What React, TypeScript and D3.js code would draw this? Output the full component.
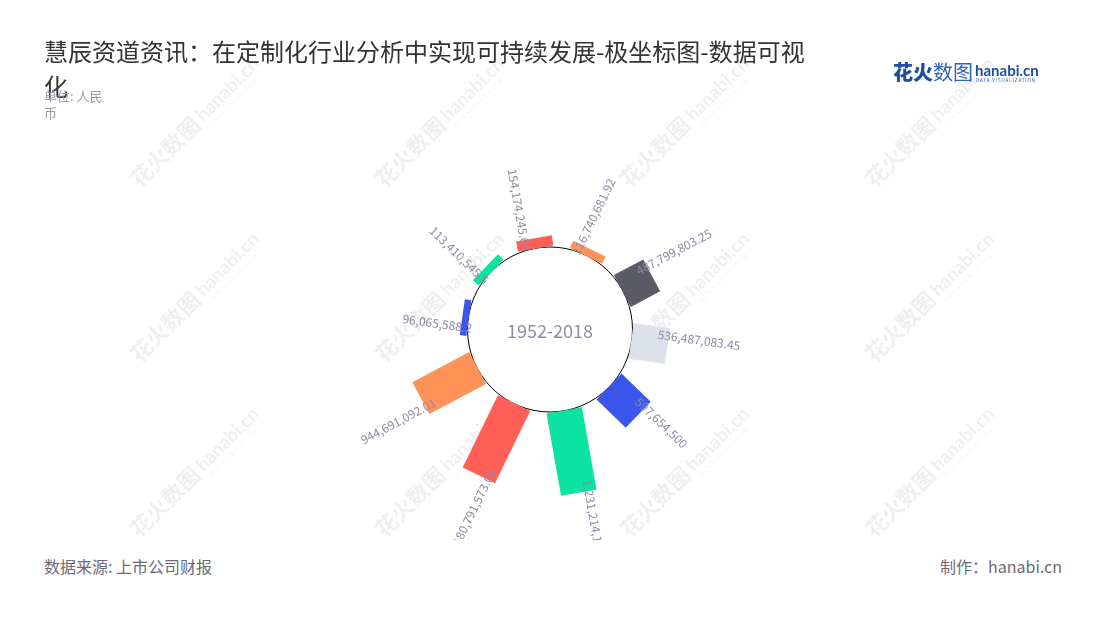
import React from 'react';
import * as d3 from 'd3';

const values: number[] = [
  154174245.68, 116740681.92, 487799803.25, 536487083.45, 597654500,
  1231214117.6, 1180791573.02, 944691092.01, 96065588.2, 113410545.5,
];
const barColors: string[] = [
  '#ff5f57', '#ff9257', '#5a5b66', '#dde1ea', '#3b56ea',
  '#0be3a0', '#ff5f57', '#ff9257', '#3b56ea', '#0be3a0',
];
const centerLabel = '1952-2018';
const titleLines: string[] = ['慧辰资道资讯：在定制化行业分析中实现可持续发展-极坐标图-数据可视', '化'];
const unitLines: string[] = ['单位: 人民', '币'];
const sourceText = '数据来源: 上市公司财报';
const makerText = '制作：hanabi.cn';

const FONT = '"Noto Sans CJK SC", "Noto Sans", sans-serif';

const wmCols = [185, 430, 675, 920];
const wmRows = [135, 310, 485];

export default function App() {
  const W = 1100, H = 620;
  const cx = 550, cy = 329.5;
  const inner = 82;
  const barW = 36;
  const idx = values.map((_, i) => String(i));
  const angle = d3.scaleBand<string>().domain(idx).range([-28, 332]);
  const radius = d3.scaleLinear().domain([0, 1.5e9]).range([inner, inner + 102]);
  const fmt = d3.format(',');
  const rad = (d: number) => (d * Math.PI) / 180;

  return (
    <svg width={W} height={H} style={{ position: 'absolute', left: 0, top: 0, background: '#fff' }} fontFamily={FONT}>
      <defs>
        <clipPath id="chartClip">
          <rect x={0} y={0} width={W} height={540} />
        </clipPath>
      </defs>
      {/* watermarks */}
      <g fill="#000" opacity={0.065}>
        {wmRows.map((y) => wmCols.map((x) => (
          <g key={`${x}-${y}`} transform={`translate(${x},${y}) rotate(-45)`}>
            <text x={-70} y={6} fontSize={22} fontWeight={700}>花火数图</text>
            <text x={22} y={4} fontSize={19} fontWeight={700} fontFamily="Lato, sans-serif">hanabi.cn</text>
            <text x={24} y={13} fontSize={5} letterSpacing={1}>DATA VISUALIZATION</text>
          </g>
        )))}
      </g>

      {/* title */}
      <text x={44} y={61} fontSize={24} fill="#333">{titleLines[0]}</text>
      <text x={44} y={96} fontSize={24} fill="#333">{titleLines[1]}</text>
      <text x={44} y={101} fontSize={13} fill="#9a9aa8">{unitLines[0]}</text>
      <text x={44} y={118} fontSize={13} fill="#9a9aa8">{unitLines[1]}</text>

      {/* logo */}
      <g>
        <text x={893} y={80} fontSize={20} fontWeight={900} fill="#1c4ea2">花火</text>
        <text x={933} y={80} fontSize={20} fill="#2f63b8">数图</text>
        <text x={975} y={76} fontSize={15} fontWeight={700} fill="#1c4ea2" fontFamily="Lato, sans-serif">hanabi.cn</text>
        <text x={976} y={82} fontSize={4.5} fill="#1c4ea2" letterSpacing={0.9}>DATA VISUALIZATION</text>
      </g>

      <g clipPath="url(#chartClip)">
        <circle cx={cx} cy={cy} r={inner + 0.5} fill="#fff" stroke="#000" strokeWidth={1} />
        {values.map((v, i) => {
          const th = (angle(String(i)) as number) + angle.bandwidth() / 2;
          const outer = radius(v);
          return (
            <rect
              key={`b${i}`}
              transform={`translate(${cx},${cy}) rotate(${th})`}
              x={-barW / 2}
              y={-outer}
              width={barW}
              height={outer - inner}
              fill={barColors[i]}
            />
          );
        })}
        <text x={cx} y={cy + 4} fontSize={18} fill="#8c8ea6" textAnchor="middle" dominantBaseline="middle">{centerLabel}</text>
        {values.map((v, i) => {
          const th = (angle(String(i)) as number) + angle.bandwidth() / 2;
          const norm = ((th % 360) + 360) % 360;
          const right = norm > 0 && norm < 180;
          const a = radius(v) - 11;
          const b = -10;
          const t = rad(th);
          const px = cx + a * Math.sin(t) + b * Math.cos(t);
          const py = cy - a * Math.cos(t) + b * Math.sin(t);
          const rot = right ? th - 90 : th + 90;
          return (
            <text
              key={`l${i}`}
              transform={`translate(${px},${py}) rotate(${rot})`}
              fontSize={12}
              fill="#8a8ca6"
              textAnchor={right ? 'start' : 'end'}
              dy="0.35em"
            >
              {fmt(v)}
            </text>
          );
        })}
      </g>

      {/* footer */}
      <text x={44} y={573} fontSize={16} fill="#6b6b78">{sourceText}</text>
      <text x={1062} y={573} fontSize={16} fill="#6b6b78" textAnchor="end">{makerText}</text>
    </svg>
  );
}
